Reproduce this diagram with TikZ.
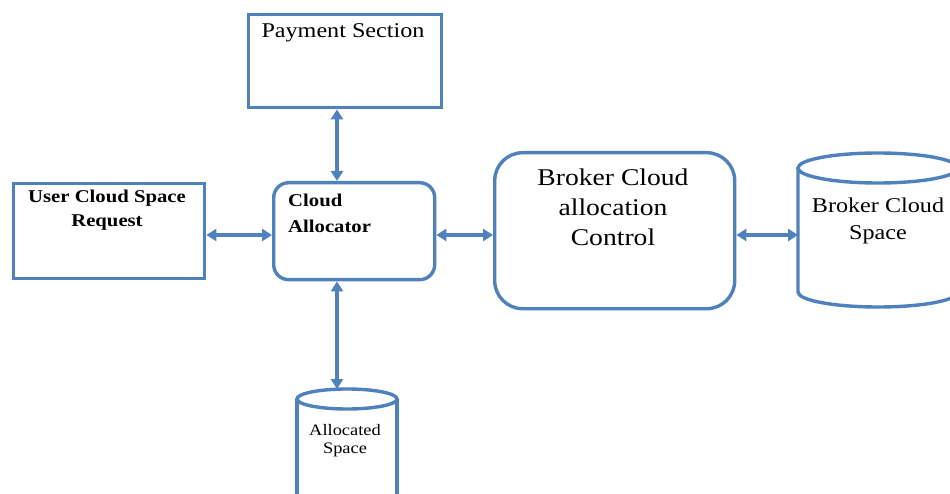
\documentclass[tikz,border=0pt]{standalone}
\usepackage{fontspec}
\setmainfont{Liberation Serif}[FakeStretch=1.15]
\usetikzlibrary{arrows.meta}
\definecolor{edgeblue}{RGB}{79,129,189}
\begin{document}
\begin{tikzpicture}[x=1pt,y=-1pt,
  box/.style={draw=edgeblue, line width=3.4pt, inner sep=0pt, anchor=north west, fill=white},
  rbox/.style={box, rounded corners=#1},
  cylarea/.style={inner sep=0pt, anchor=north west, outer sep=1.7pt},
  cyl/.style={draw=edgeblue, line width=3.4pt},
  conn/.style={draw=edgeblue, line width=3.4pt,
    {Triangle[length=10pt,width=12pt]}-{Triangle[length=10pt,width=12pt]}},
  lbl/.style={anchor=base, inner sep=0pt, text=black},
  lblw/.style={anchor=base west, inner sep=0pt, text=black}]
\useasboundingbox (0,0) rectangle (950,494);
\clip (0,0) rectangle (950,494);
\fill[white] (0,0) rectangle (950,494);

% boxes
\node[box, minimum width=193pt, minimum height=93pt] (pay) at (247,13) {};
\node[box, minimum width=191pt, minimum height=95pt] (user) at (12,182) {};
\node[rbox=15pt, minimum width=161pt, minimum height=97pt] (alloc) at (272,181) {};
\node[rbox=28pt, minimum width=240pt, minimum height=156pt] (ctrl) at (493,151) {};

% broker cloud space cylinder
\node[cylarea, minimum width=160pt, minimum height=154pt] (bcs) at (798,153) {};
\draw[cyl] (798,168) -- (798,292) arc[start angle=180, end angle=360, x radius=80pt, y radius=15pt] -- (958,168);
\draw[cyl] (878,168) ellipse[x radius=80pt, y radius=15pt];

% allocated space cylinder
\node[cylarea, minimum width=100pt, minimum height=120pt] (aspace) at (297,389) {};
\draw[cyl] (297,399) -- (297,520);
\draw[cyl] (397,399) -- (397,520);
\draw[cyl] (347,399) ellipse[x radius=50pt, y radius=10pt];

% texts
\node[lbl, font=\fontsize{21}{24}\selectfont] (tpay) at (343,38) {Payment Section};
\node[lbl, font=\bfseries\fontsize{18}{21}\selectfont] (tuser1) at (107,203) {User Cloud Space};
\node[lbl, font=\bfseries\fontsize{18}{21}\selectfont] (tuser2) at (107,227) {Request};
\node[lblw, font=\bfseries\fontsize{18}{21}\selectfont] (talloc1) at (288,207) {Cloud};
\node[lblw, font=\bfseries\fontsize{18}{21}\selectfont] (talloc2) at (288,233) {Allocator};
\node[lbl, font=\fontsize{24}{28}\selectfont] (tctrl1) at (613,186) {Broker Cloud};
\node[lbl, font=\fontsize{24}{28}\selectfont] (tctrl2) at (613,216) {allocation};
\node[lbl, font=\fontsize{24}{28}\selectfont] (tctrl3) at (613,246) {Control};
\node[lbl, font=\fontsize{21}{24}\selectfont] (tbcs1) at (878,213) {Broker Cloud};
\node[lbl, font=\fontsize{21}{24}\selectfont] (tbcs2) at (878,240) {Space};
\node[lbl, font=\fontsize{16}{18}\selectfont] (tas1) at (345,435) {Allocated};
\node[lbl, font=\fontsize{16}{18}\selectfont] (tas2) at (345,453) {Space};

% connectors
\coordinate (vx) at (337,0);
\coordinate (hy) at (0,235);
\draw[conn] (pay.south -| vx) -- (alloc.north -| vx);
\draw[conn] (alloc.south -| vx) -- (aspace.north -| vx);
\draw[conn] (user.east |- hy) -- (alloc.west |- hy);
\draw[conn] (alloc.east |- hy) -- (ctrl.west |- hy);
\draw[conn] (ctrl.east |- hy) -- (bcs.west |- hy);
\end{tikzpicture}
\end{document}
